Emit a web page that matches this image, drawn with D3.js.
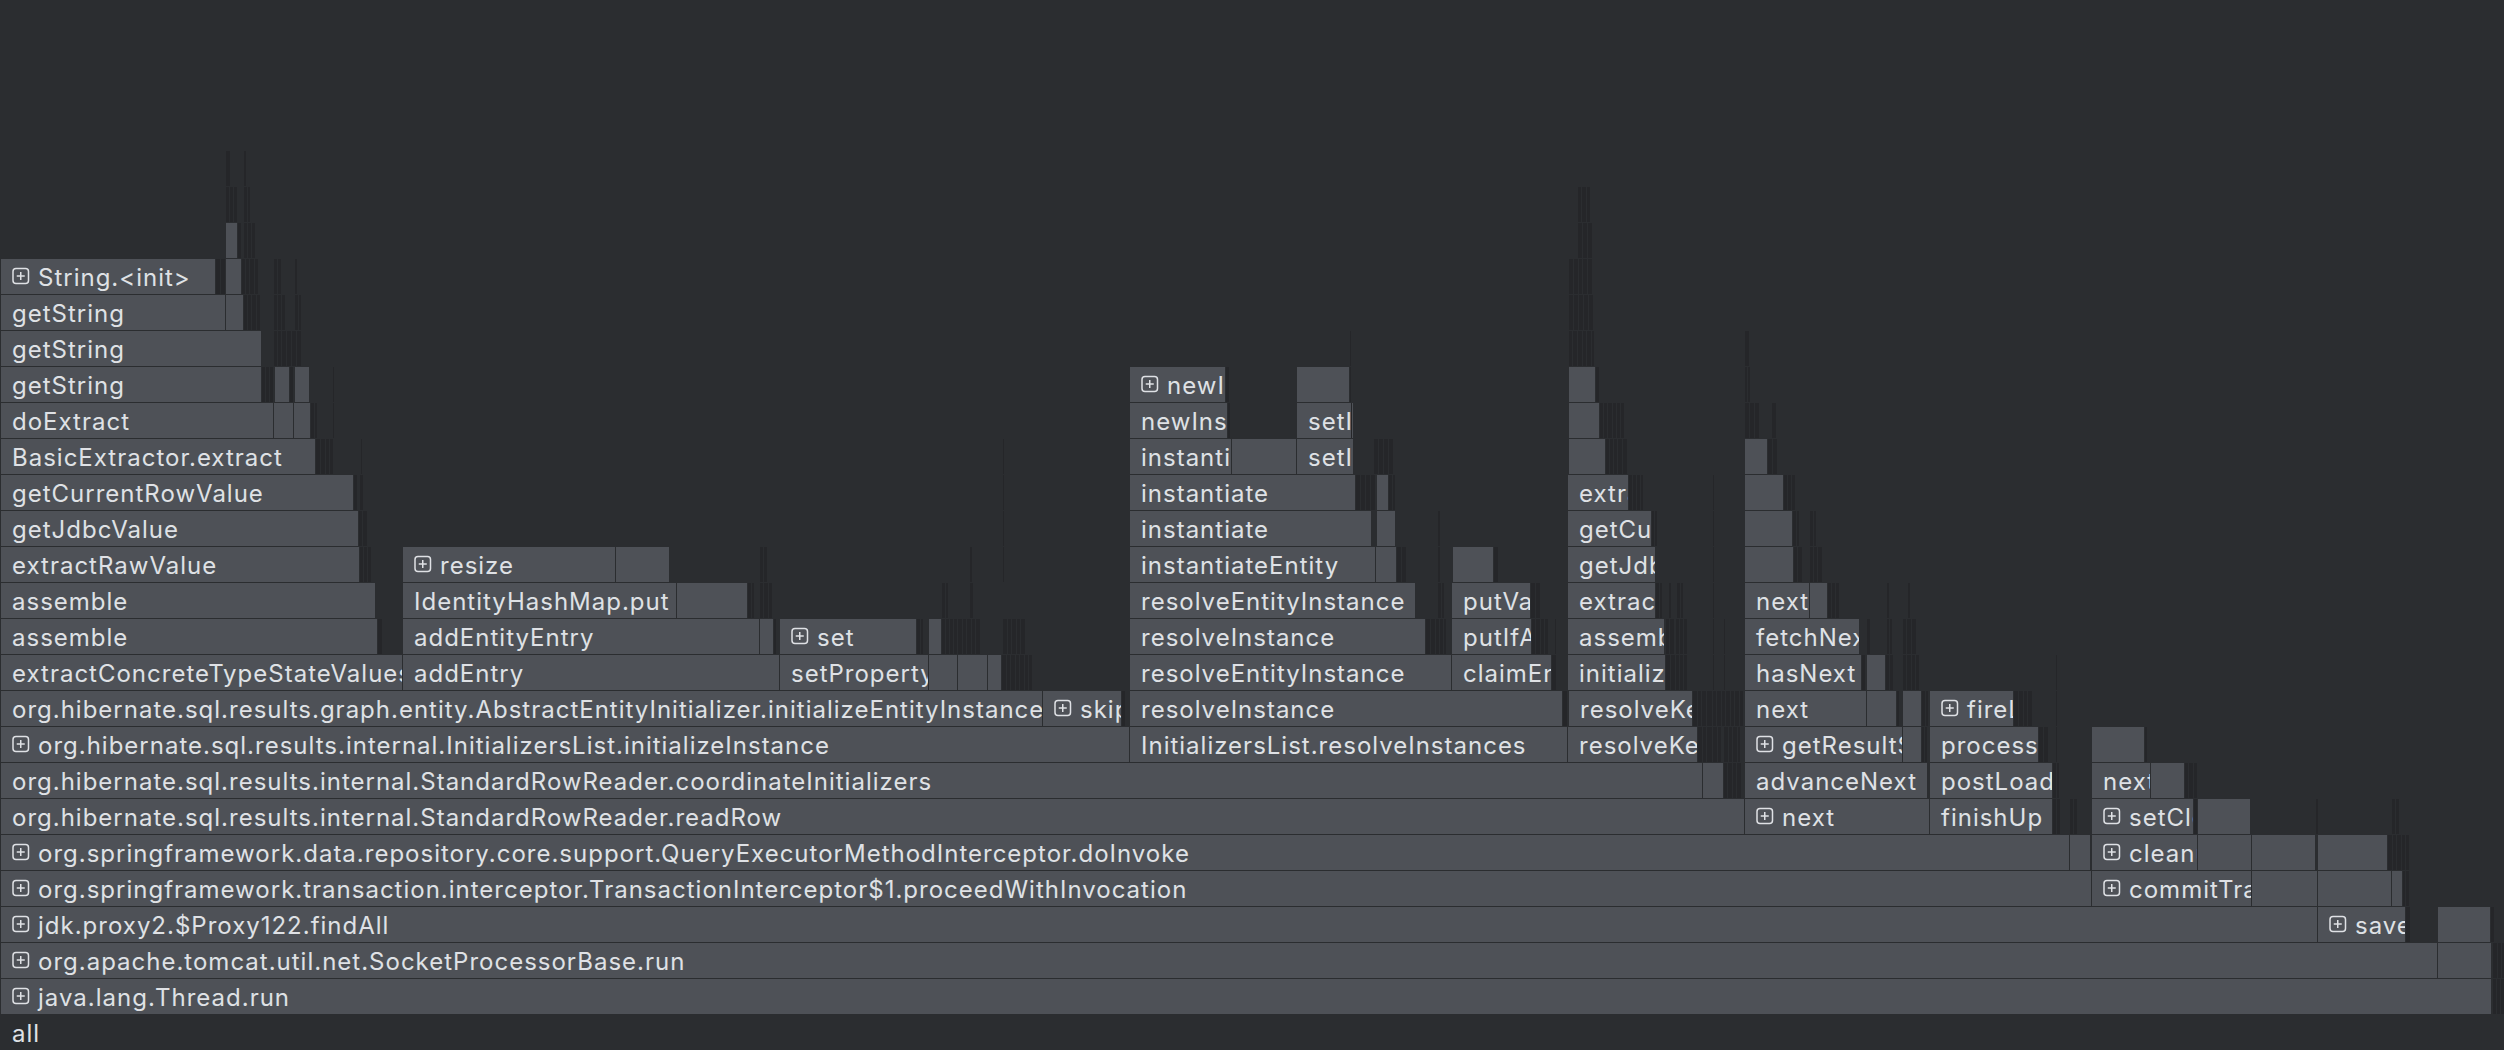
<!DOCTYPE html>
<html><head><meta charset="utf-8">
<script src="https://cdn.jsdelivr.net/npm/d3@7"></script>
<style>html,body{margin:0;padding:0;background:#2b2d30;overflow:hidden}</style>
</head><body><svg id="chart" width="2504" height="1050"></svg>
<script>
// Flame graph data: each level = [startSample, sampleCount, frameName]; "+" prefix = collapsed frame
const totalSamples = 2504;
const level0 = [[0,2504,"all"]];
const level1 = [[0,2491,"+java.lang.Thread.run"],[2492,4,""],[2496,4,""],[2500,4,""]];
const level2 = [[0,2437,"+org.apache.tomcat.util.net.SocketProcessorBase.run"],[2437,54,""],[2492,5,""],[2497,4,""],[2501,3,""]];
const level3 = [[0,2317,"+jdk.proxy2.$Proxy122.findAll"],[2317,88,"+saveAll"],[2405,5,""],[2437,53,""],[2490,4,""]];
const level4 = [[0,2091,"+org.springframework.transaction.interceptor.TransactionInterceptor$1.proceedWithInvocation"],[2091,160,"+commitTransactionAfterReturning"],[2251,66,""],[2317,74,""],[2391,11,""],[2402,3,""],[2405,4,""]];
const level5 = [[0,2069,"+org.springframework.data.repository.core.support.QueryExecutorMethodInterceptor.doInvoke"],[2069,21,""],[2091,106,"+cleanupAfterCompletion"],[2197,54,""],[2251,64,""],[2317,70,""],[2387,5,""],[2392,4,""],[2396,5,""],[2401,4,""],[2405,4,""]];
const level6 = [[0,1744,"org.hibernate.sql.results.internal.StandardRowReader.readRow"],[1744,185,"+next"],[1929,123,"finishUp"],[2052,4,""],[2056,4,""],[2069,4,""],[2073,4,""],[2091,102,"+setClosed"],[2193,4,""],[2197,53,""],[2315,3,""],[2391,4,""],[2395,4,""]];
const level7 = [[0,1702,"org.hibernate.sql.results.internal.StandardRowReader.coordinateInitializers"],[1702,21,""],[1723,4,""],[1727,5,""],[1732,4,""],[1736,5,""],[1744,183,"advanceNext"],[1929,123,"postLoad"],[2052,4,""],[2056,3,""],[2091,59,"next"],[2150,34,""],[2184,4,""],[2188,5,""],[2193,4,""]];
const level8 = [[0,1129,"+org.hibernate.sql.results.internal.InitializersList.initializeInstance"],[1129,438,"InitializersList.resolveInstances"],[1567,130,"resolveKey"],[1697,5,""],[1702,4,""],[1706,6,""],[1712,5,""],[1717,4,""],[1723,5,""],[1728,4,""],[1732,5,""],[1737,3,""],[1744,158,"+getResultSet"],[1902,19,""],[1921,3,""],[1924,3,""],[1929,109,"processEntities"],[2038,5,""],[2043,5,""],[2055,2,""],[2091,53,""],[2144,3,""]];
const level9 = [[0,1042,"org.hibernate.sql.results.graph.entity.AbstractEntityInitializer.initializeEntityInstance"],[1042,79,"+skipInitialization"],[1121,4,""],[1129,433,"resolveInstance"],[1562,5,""],[1568,124,"resolveKey"],[1692,5,""],[1697,4,""],[1701,5,""],[1706,6,""],[1712,4,""],[1716,5,""],[1721,4,""],[1725,5,""],[1730,4,""],[1734,5,""],[1739,4,""],[1744,122,"next"],[1866,30,""],[1896,3,""],[1902,19,""],[1921,4,""],[1925,3,""],[1929,84,"+fireLoadEvent"],[2013,5,""],[2018,5,""],[2023,4,""],[2027,5,""],[2055,2,""]];
const level10 = [[0,402,"extractConcreteTypeStateValues"],[402,377,"addEntry"],[779,149,"setPropertyValues"],[928,29,""],[957,30,""],[987,14,""],[1001,5,""],[1006,4,""],[1010,5,""],[1015,4,""],[1019,5,""],[1024,4,""],[1028,4,""],[1129,322,"resolveEntityInstance"],[1451,100,"claimEntityHolderIfPossible"],[1551,5,""],[1567,98,"initializeInstance"],[1665,5,""],[1670,5,""],[1675,4,""],[1679,4,""],[1683,4,""],[1712,2,""],[1723,2,""],[1744,117,"hasNext"],[1861,4,""],[1866,19,""],[1885,4,""],[1889,4,""],[1902,4,""],[1906,5,""],[1911,4,""],[1915,4,""],[2055,2,""]];
const level11 = [[0,377,"assemble"],[377,5,""],[402,357,"addEntityEntry"],[759,14,""],[773,3,""],[779,137,"+set"],[916,4,""],[920,3,""],[928,13,""],[941,4,""],[945,4,""],[949,4,""],[953,4,""],[957,5,""],[962,4,""],[966,5,""],[971,4,""],[975,5,""],[1002,5,""],[1007,4,""],[1011,5,""],[1016,4,""],[1020,5,""],[1129,296,"resolveInstance"],[1425,5,""],[1430,5,""],[1435,4,""],[1439,4,""],[1443,3,""],[1451,80,"putIfAbsent"],[1531,4,""],[1535,5,""],[1540,4,""],[1544,4,""],[1554,2,""],[1567,97,"assemble"],[1665,4,""],[1669,5,""],[1675,4,""],[1679,4,""],[1683,4,""],[1712,2,""],[1723,2,""],[1744,115,"fetchNext"],[1866,4,""],[1886,3,""],[1889,3,""],[1902,4,""],[1906,5,""],[1911,5,""]];
const level12 = [[0,375,"assemble"],[402,274,"IdentityHashMap.put"],[676,71,""],[747,4,""],[751,3,""],[759,4,""],[763,5,""],[768,4,""],[941,4,""],[945,3,""],[969,4,""],[1129,286,"resolveEntityInstance"],[1437,4,""],[1441,3,""],[1451,79,"putVal"],[1530,5,""],[1535,5,""],[1567,88,"extractRawValue"],[1655,4,""],[1659,3,""],[1668,3,""],[1676,4,""],[1680,3,""],[1712,2,""],[1744,65,"next"],[1809,18,""],[1827,4,""],[1831,4,""],[1835,4,""],[1886,3,""],[1907,3,""]];
const level13 = [[0,359,"extractRawValue"],[359,4,""],[363,4,""],[367,4,""],[402,213,"+resize"],[615,54,""],[759,4,""],[763,4,""],[969,3,""],[1002,2,""],[1129,246,"instantiateEntity"],[1375,21,""],[1396,5,""],[1401,5,""],[1437,3,""],[1452,41,""],[1493,5,""],[1567,88,"getJdbcValue"],[1712,2,""],[1744,49,""],[1793,4,""],[1797,5,""],[1809,4,""],[1813,4,""],[1817,5,""]];
const level14 = [[0,358,"getJdbcValue"],[358,4,""],[362,5,""],[1002,2,""],[1129,242,"instantiate"],[1376,19,""],[1437,3,""],[1567,84,"getCurrentRowValue"],[1651,3,""],[1654,3,""],[1712,2,""],[1744,48,""],[1792,4,""],[1796,3,""],[1809,4,""],[1813,3,""]];
const level15 = [[0,353,"getCurrentRowValue"],[353,4,""],[359,4,""],[1002,2,""],[1129,226,"instantiate"],[1355,5,""],[1360,5,""],[1365,5,""],[1370,5,""],[1376,12,""],[1388,4,""],[1392,3,""],[1567,61,"extract"],[1628,4,""],[1632,4,""],[1636,4,""],[1640,3,""],[1712,2,""],[1744,39,""],[1783,4,""],[1787,4,""],[1791,4,""]];
const level16 = [[0,315,"BasicExtractor.extract"],[315,5,""],[320,5,""],[325,4,""],[329,4,""],[360,2,""],[1002,2,""],[1129,102,"instantiate"],[1231,65,""],[1296,57,"setIdentifier"],[1373,5,""],[1378,5,""],[1383,5,""],[1388,5,""],[1568,37,""],[1605,4,""],[1609,4,""],[1613,4,""],[1617,5,""],[1622,5,""],[1744,23,""],[1767,5,""],[1772,5,""]];
const level17 = [[0,273,"doExtract"],[273,20,""],[293,17,""],[310,4,""],[314,3,""],[332,2,""],[1129,98,"newInstance"],[1227,3,""],[1296,57,"setIdentifier"],[1350,2,""],[1568,31,""],[1599,4,""],[1603,4,""],[1607,5,""],[1612,4,""],[1616,4,""],[1620,4,""],[1744,5,""],[1749,5,""],[1754,5,""],[1771,5,""]];
const level18 = [[0,261,"getString"],[261,4,""],[265,4,""],[269,4,""],[274,15,""],[289,4,""],[294,15,""],[332,2,""],[1129,96,"+newInstance"],[1225,4,""],[1296,53,""],[1349,2,""],[1568,27,""],[1595,4,""],[1744,3,""],[1747,3,""]];
const level19 = [[0,261,"getString"],[273,4,""],[277,4,""],[281,5,""],[286,5,""],[291,5,""],[296,5,""],[1349,2,""],[1568,4,""],[1572,5,""],[1577,5,""],[1582,4,""],[1586,5,""],[1591,3,""],[1744,5,""]];
const level20 = [[0,225,"getString"],[225,18,""],[243,4,""],[247,4,""],[251,5,""],[256,4,""],[273,4,""],[277,4,""],[281,4,""],[294,4,""],[298,3,""],[1568,5,""],[1573,5,""],[1578,5,""],[1583,5,""],[1588,5,""]];
const level21 = [[0,215,"+String.<init>"],[215,5,""],[220,5,""],[225,16,""],[241,4,""],[245,4,""],[249,5,""],[254,4,""],[273,4,""],[277,4,""],[294,3,""],[1568,5,""],[1573,5,""],[1578,4,""],[1582,5,""],[1587,5,""]];
const level22 = [[225,12,""],[237,4,""],[243,4,""],[247,4,""],[251,4,""],[1577,5,""],[1582,5,""],[1587,5,""]];
const level23 = [[225,4,""],[229,4,""],[233,4,""],[243,4,""],[247,3,""],[1577,4,""],[1581,5,""],[1586,4,""]];
const level24 = [[225,5,""],[243,3,""]];
const levels = [level0,level1,level2,level3,level4,level5,level6,level7,level8,level9,level10,level11,level12,level13,level14,level15,level16,level17,level18,level19,level20,level21,level22,level23,level24];

const W = 2504, H = 1050, rowH = 36;
const BG = "#2b2d30", FRAME = "#4e5157", DARK = "#252629", TEXT = "#dfe1e5";
const svg = d3.select("#chart");
svg.append("rect").attr("width", W).attr("height", H).attr("fill", BG);

const x = d3.scaleLinear().domain([0, totalSamples]).range([0, W]);
const y = d3.scaleLinear().domain([0, 1]).range([H - rowH, H - 2 * rowH]);

const frames = levels.flatMap((lv, depth) => lv.map(f => ({
  depth, start: f[0], n: f[1],
  collapsed: f[2].startsWith("+"),
  label: f[2].startsWith("+") ? f[2].slice(1) : f[2]
})));
frames.forEach(d => { d.x0 = x(d.start); d.w = x(d.start + d.n) - x(d.start); });

const g = svg.selectAll("svg.frame").data(frames).join("svg")
  .attr("class", "frame")
  .attr("x", d => d.x0).attr("y", d => y(d.depth))
  .attr("width", d => d.w).attr("height", rowH)
  .attr("overflow", "hidden");

g.append("rect")
  .attr("x", 1).attr("y", 1)
  .attr("width", d => Math.max(0.5, d.w - 1)).attr("height", rowH - 1)
  .attr("fill", d => d.depth === 0 ? BG : (d.w < 8 ? DARK : FRAME));

const lab = g.filter(d => d.label !== "");
lab.append("text")
  .attr("x", d => d.collapsed ? 38 : 12).attr("y", 28)
  .attr("fill", TEXT)
  .style("font-family", "Inter, 'Noto Sans', sans-serif")
  .style("font-size", "24px")
  .style("letter-spacing", "1px")
  .text(d => d.label);

const icon = lab.filter(d => d.collapsed);
icon.append("rect")
  .attr("x", 13).attr("y", 10.5).attr("width", 15.5).attr("height", 15).attr("rx", 3)
  .attr("fill", "none").attr("stroke", TEXT).attr("stroke-width", 1.5);
icon.append("path")
  .attr("d", "M16.75,18H24.75M20.75,14V22")
  .attr("stroke", TEXT).attr("stroke-width", 1.5);
</script></body></html>
